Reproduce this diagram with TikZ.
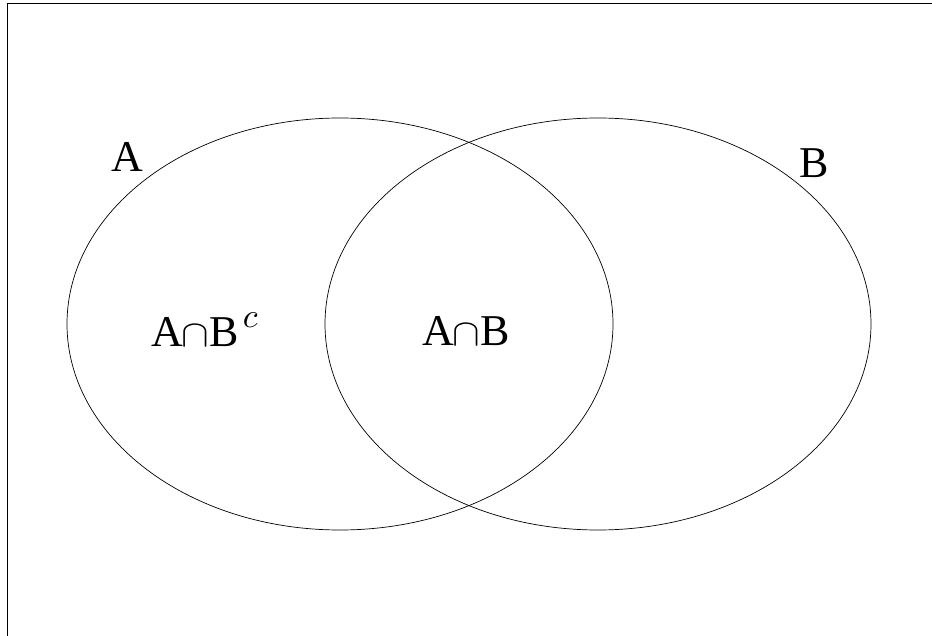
\documentclass[tikz,border=0pt]{standalone}
\usepackage{fontspec}
\setmainfont{Liberation Serif}
\newcommand{\capsym}{\kern-1.6pt\scalebox{4.15}[3.8]{\normalsize${\cap}$}\kern0.5pt}
\newcommand{\supc}{\kern4pt\raisebox{20pt}{\scalebox{3.4}{\normalsize$c$}}}
\begin{document}
\begin{tikzpicture}[x=1pt,y=-1pt,
  lbl/.style={inner sep=0pt,anchor=base west,font=\fontsize{44}{50}\selectfont},
  venn/.style={draw=black,line width=0.7pt}]
\useasboundingbox (0,0) rectangle (932,636);
\draw[line width=1pt] (7,650) -- (7,4) -- (945,4);
\draw[venn] (340,324) ellipse [x radius=273, y radius=206];
\draw[venn] (598,324) ellipse [x radius=273, y radius=206];
\node[lbl] (la) at (111,172) {A};
\node[lbl] (lb) at (799,177.5) {B};
\node[lbl] (lab) at (151,347) {A\capsym B\supc};
\node[lbl] (ab) at (422,346) {A\capsym B};
\end{tikzpicture}
\end{document}
